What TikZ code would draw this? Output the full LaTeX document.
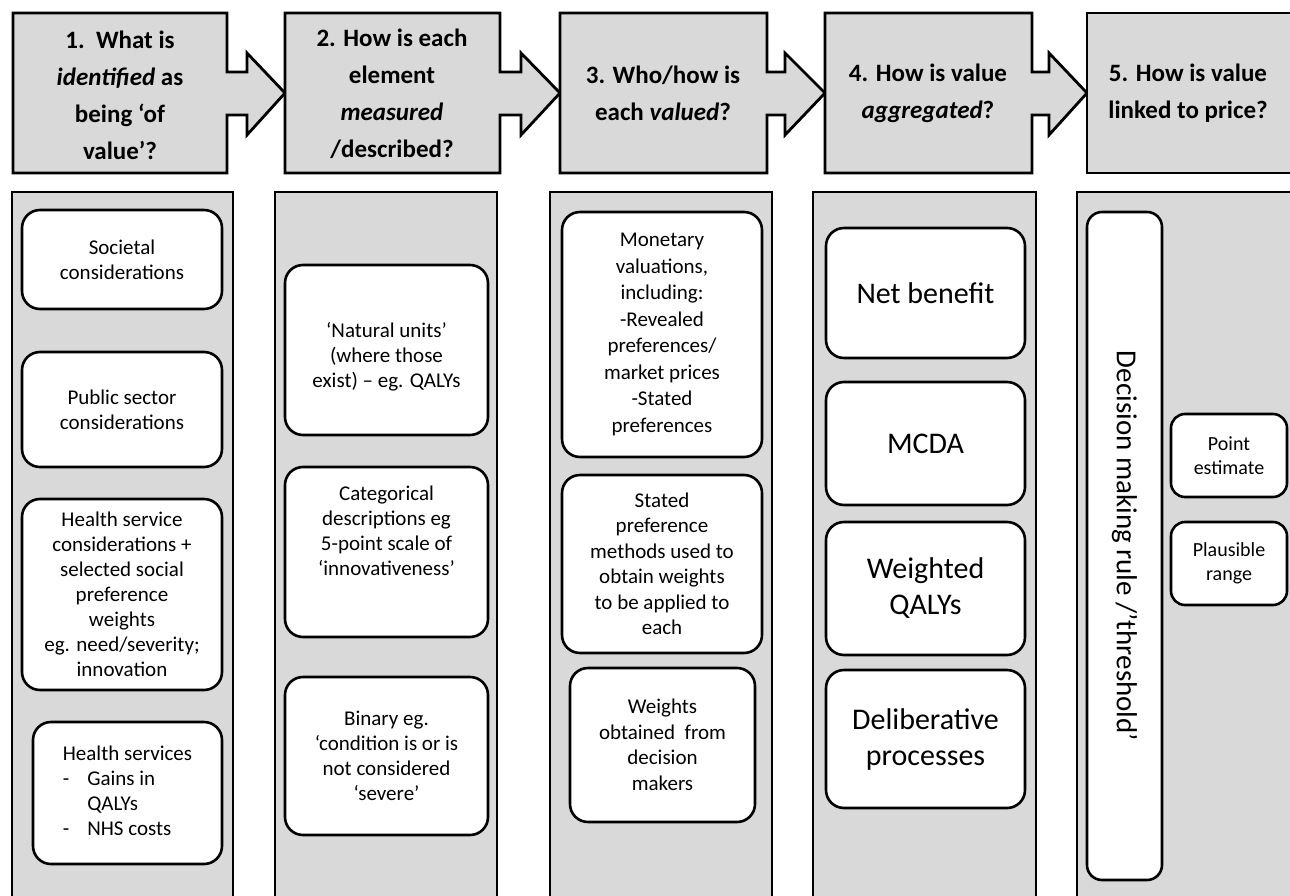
\documentclass[tikz,border=0pt]{standalone}
\usepackage{fontspec}
\setmainfont{Carlito}
\definecolor{hgray}{HTML}{D9D9D9}
\tikzset{
  hdr/.style={draw=black, fill=hgray, line width=2.8pt, line join=miter},
  colbox/.style={draw=black, fill=hgray, line width=2.8pt},
  rbox/.style={draw=black, fill=white, line width=2.6pt, rounded corners=18pt, inner sep=0pt, align=center, font=\fontsize{21}{25}\selectfont},
  htxt/.style={align=center, inner sep=0pt, font=\fontsize{25}{37}\selectfont\bfseries},
  btxt/.style={align=center, inner sep=0pt, font=\fontsize{21}{25}\selectfont},
  bigbox/.style={rbox, font=\fontsize{30}{36}\selectfont},
}
\begin{document}
\begin{tikzpicture}[x=1pt, y=-1pt]
\useasboundingbox (0,0) rectangle (1290,896);
\clip (0,0) rectangle (1290,896);
% header shapes with arrows
\draw[hdr] (13,13) -- (227,13) -- (227,72) -- (247,72) -- (247,53) -- (285,93) -- (247,135) -- (247,115) -- (227,115) -- (227,173) -- (13,173) -- cycle;
\draw[hdr] (285,13) -- (500,13) -- (500,72) -- (521,72) -- (521,53) -- (560,93) -- (521,135) -- (521,115) -- (500,115) -- (500,173) -- (285,173) -- cycle;
\draw[hdr] (560,13) -- (767,13) -- (767,72) -- (785,72) -- (785,53) -- (825,93) -- (785,135) -- (785,115) -- (767,115) -- (767,173) -- (560,173) -- cycle;
\draw[hdr] (825,13) -- (1032,13) -- (1032,72) -- (1049,72) -- (1049,53) -- (1087,93) -- (1049,135) -- (1049,115) -- (1032,115) -- (1032,173) -- (825,173) -- cycle;
\draw[hdr] (1087,13) rectangle (1300,173);
% header texts
\node[htxt] (h1) at (120,95) {1.\ \ What is\\\textit{identified} as\\being ‘of\\value’?};
\node[htxt] (h2) at (392,94) {2. How is each\\element\\\textit{measured}\\/described?};
\node[htxt] (h3) at (663,93) {3. Who/how is\\each \textit{valued}?};
\node[htxt] (h4) at (928,93) {4. How is value\\\textit{aggregated}?};
\node[htxt] (h5) at (1188,93) {5. How is value\\linked to price?};
% columns
\draw[colbox] (12,192) rectangle (233,920);
\draw[colbox] (275,192) rectangle (497,920);
\draw[colbox] (550,192) rectangle (772,920);
\draw[colbox] (813,192) rectangle (1036,920);
\draw[colbox] (1077,192) rectangle (1310,920);
% column 1
\node[rbox, minimum width=200pt, minimum height=99pt] (c1a) at (122,259.5) {Societal\\considerations};
\node[rbox, minimum width=200pt, minimum height=115pt] (c1b) at (122,409.5) {Public sector\\considerations};
\node[rbox, minimum width=200pt, minimum height=191pt] (c1c) at (122,594.5) {Health service\\considerations +\\selected social\\preference\\weights\\eg. need/severity;\\innovation};
\node[rbox, minimum width=189pt, minimum height=142pt] (c1d) at (127.5,793) {\begin{tabular}{@{}l@{\hspace{18pt}}l@{}}\multicolumn{2}{@{}c@{}}{Health services}\\-&Gains in\\&QALYs\\-&NHS costs\end{tabular}};
% column 2
\node[rbox, minimum width=203pt, minimum height=170pt] (c2a) at (386.5,350) {};
\node[btxt] (c2at) at (386.5,357) {‘Natural units’\\(where those\\exist) – eg. QALYs};
\node[rbox, minimum width=203pt, minimum height=170pt] (c2b) at (386.5,552) {};
\node[btxt] (c2bt) at (386.5,531) {Categorical\\descriptions eg\\5-point scale of\\‘innovativeness’};
\node[rbox, minimum width=203pt, minimum height=158pt] (c2c) at (386.5,756) {Binary eg.\\‘condition is or is\\not considered\\‘severe’};
% column 3
\node[rbox, font=\fontsize{21}{26.5}\selectfont, minimum width=200pt, minimum height=245pt] (c3a) at (662,334.5) {Monetary\\valuations,\\including:\\-Revealed\\preferences/\\market prices\\-Stated\\preferences};
\node[rbox, font=\fontsize{21}{25.5}\selectfont, minimum width=200pt, minimum height=178pt] (c3b) at (662,564) {Stated\\preference\\methods used to\\obtain weights\\to be applied to\\each};
\node[rbox, font=\fontsize{21}{25.5}\selectfont, minimum width=185pt, minimum height=154pt] (c3c) at (662.5,745) {Weights\\obtained\ \ from\\decision\\makers};
% column 4
\node[bigbox, minimum width=199pt, minimum height=130pt] (c4a) at (925.5,293) {Net benefit};
\node[bigbox, minimum width=199pt, minimum height=123pt] (c4b) at (925.5,443.5) {MCDA};
\node[bigbox, minimum width=199pt, minimum height=133pt] (c4c) at (925.5,588.5) {Weighted\\QALYs};
\node[bigbox, minimum width=199pt, minimum height=138pt] (c4d) at (925.5,739) {Deliberative\\processes};
% column 5
\node[rbox, rounded corners=15pt, rotate=-90, font=\fontsize{29}{32}\selectfont, minimum width=668pt, minimum height=75pt] (c5a) at (1124.5,546) {Decision making rule /’threshold’};
\node[rbox, rounded corners=14pt, font=\fontsize{20}{24}\selectfont, minimum width=116pt, minimum height=83pt] (c5b) at (1229,455.5) {Point\\estimate};
\node[rbox, rounded corners=14pt, font=\fontsize{20}{24}\selectfont, minimum width=116pt, minimum height=83pt] (c5c) at (1229,563.5) {Plausible\\range};
\end{tikzpicture}
\end{document}
